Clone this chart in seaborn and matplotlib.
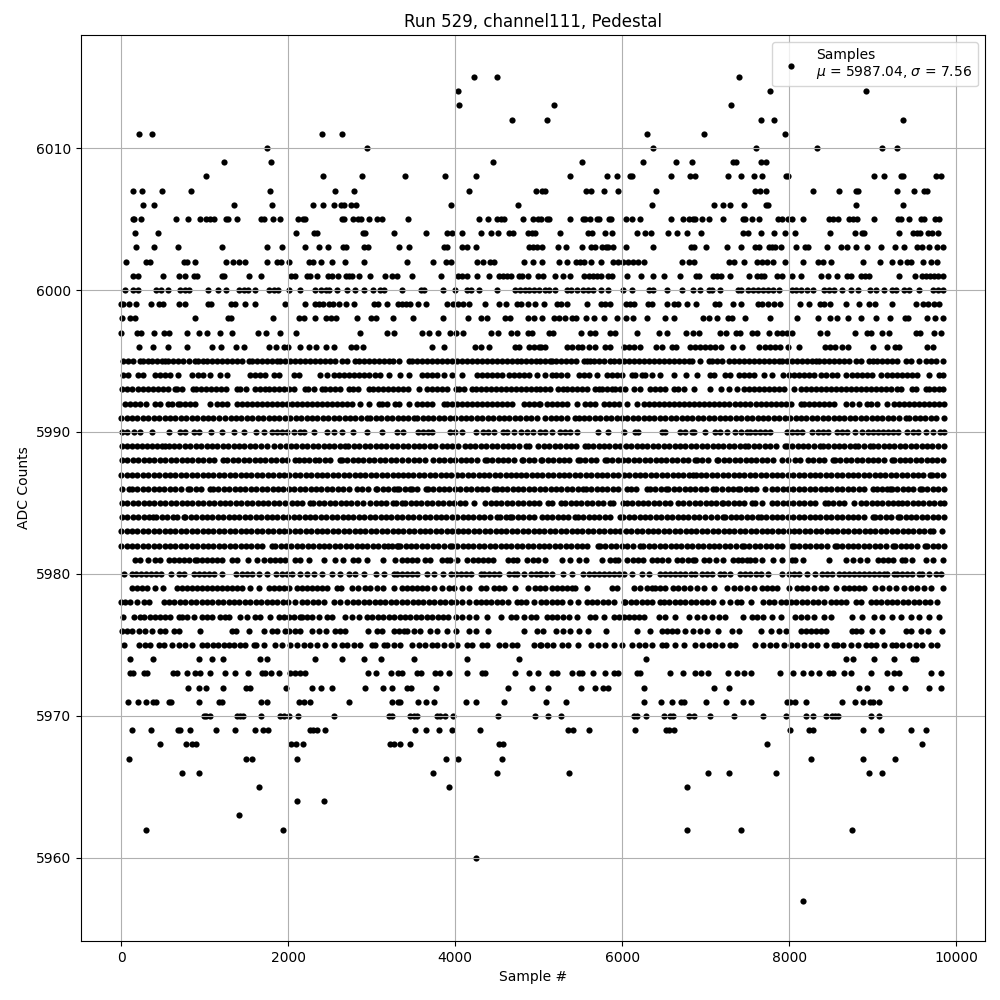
"""
plot.py
Pedestal samples of one ADC channel, positions read off the reference picture
"""

import pandas as pd
import matplotlib
matplotlib.use("Agg")
import matplotlib.pyplot as plt
import seaborn as sns

# sample numbers seen at each ADC count
adc_6015 = [4232, 4507, 7405]
adc_6014 = [4040, 7776, 8926]
adc_6013 = [4052, 5190, 7309]
adc_6012 = [4687, 5106, 7669, 7824, 9369]
adc_6011 = [208, 375, 2411, 2639, 6303, 6986, 7956]
adc_6010 = [1741, 2950, 6375, 7609, 8339, 9118, 9297]
adc_6009 = [1237, 1800, 4459, 5525, 6256, 6651, 6834, 7333, 7369, 7669, 7729]
adc_6008 = [1010, 2423, 2890, 3405, 3884, 4255, 5381, 5824, 5944, 6100, 6124, 6591, 6818, 6878, 7274, 7429, 7585, 7681, 7968, 7992, 9022, 9142, 9345, 9369, 9764, 9824]
adc_6007 = [136, 255, 483, 842, 1788, 2567, 2794, 4172, 4974, 5046, 5082, 5573, 5633, 5788, 5956, 6411, 7597, 7657, 7729, 8291, 8603, 8806, 8830, 9297, 9501, 9621, 9657]
adc_6006 = [267, 399, 1357, 1812, 2303, 2423, 2555, 2627, 2663, 2758, 2818, 3956, 4758, 6363, 7106, 7214, 7297, 7465, 7729, 7753, 8806, 9369]
adc_6005 = [136, 148, 243, 651, 806, 950, 1010, 1058, 1106, 1261, 1285, 1393, 1669, 1705, 1824, 1908, 2112, 2172, 2196, 2639, 2663, 2782, 2842, 2878, 2974, 3070, 3122, 3441, 4291, 4399, 4507, 4555, 4591, 4818, 4938, 4998, 5034, 5106, 5130, 5381, 5537, 5561, 5621, 5705, 5729, 5848, 5872, 6052, 6124, 6220, 6591, 6735, 6806, 6854, 6878, 6962, 7046, 7214, 7453, 7477, 7561, 7645, 7872, 7920, 7992, 8040, 8172, 8483, 8531, 8591, 8723, 8770, 8818, 9022, 9309, 9345, 9441, 9585, 9621, 9752, 9800]
adc_6004 = [160, 435, 2088, 2315, 2351, 2902, 2926, 3273, 3657, 3908, 3968, 4088, 4315, 4435, 4519, 4651, 4699, 4878, 4926, 4962, 5262, 5597, 5645, 5800, 5884, 6184, 6280, 6351, 6555, 6663, 6782, 6950, 7453, 7513, 7669, 7824, 7956, 8076, 8495, 8794, 8878, 8902, 9321, 9489, 9537, 9573, 9669, 9717, 9788]
adc_6003 = [172, 399, 675, 1213, 1741, 1932, 2207, 2375, 2483, 2651, 2687, 2914, 2962, 3333, 3453, 3872, 3908, 4088, 4140, 4255, 4890, 4938, 4986, 5046, 5238, 5333, 5525, 5633, 5681, 5764, 5812, 5836, 5896, 6052, 6375, 6830, 6866, 7010, 7262, 7429, 7597, 7645, 7765, 7800, 7836, 7908, 8088, 8196, 8232, 8459, 8627, 8699, 8806, 8938, 9106, 9274, 9381, 9537, 9597, 9681, 9776, 9840]
adc_6002 = [52, 303, 351, 758, 794, 890, 1250, 1345, 1417, 1489, 1752, 1872, 1920, 2016, 2244, 2303, 2399, 2531, 2675, 2914, 3429, 3729, 3896, 3956, 4268, 4339, 4423, 4471, 4830, 4938, 5046, 5250, 5345, 5453, 5501, 5549, 5633, 5753, 5896, 5956, 6016, 6076, 6136, 6196, 6268, 6723, 6806, 6866, 7286, 7345, 7465, 7621, 7681, 7741, 7812, 7956, 8172, 8351, 8411, 8507, 8890, 9094, 9238, 9333, 9409, 9465, 9609, 9705, 9776]
adc_6001 = [136, 196, 495, 687, 770, 878, 914, 1213, 1237, 1525, 1669, 2040, 2076, 2231, 2267, 2351, 2483, 2531, 2603, 2687, 2723, 2770, 2854, 2986, 3166, 3238, 3309, 3489, 3836, 4040, 4088, 4148, 4268, 4411, 4531, 4579, 4627, 4675, 4770, 4806, 4878, 4998, 5058, 5202, 5297, 5381, 5549, 5609, 5657, 5705, 5753, 5836, 5884, 6064, 6232, 6375, 6507, 6699, 6890, 6926, 7094, 7142, 7190, 7297, 7525, 7621, 7669, 7705, 7860, 7920, 8040, 8148, 8387, 8471, 8579, 8699, 8747, 8866, 8914, 8962, 9321, 9513, 9597, 9645, 9693, 9741, 9788, 9840]
adc_6000 = [50, 145, 205, 417, 481, 565, 705, 769, 817, 1045, 1165, 1261, 1417, 1473, 1513, 1597, 1765, 1825, 1873, 2005, 2137, 2317, 2389, 2453, 2485, 2581, 2701, 2797, 2905, 3013, 3097, 3145, 3361, 3589, 3625, 3853, 3997, 4145, 4193, 4285, 4501, 4717, 4777, 4837, 4885, 4945, 5005, 5082, 5130, 5202, 5345, 5393, 5465, 5537, 5597, 5657, 5753, 5836, 6016, 6124, 6327, 6375, 6543, 6723, 6854, 6938, 7046, 7082, 7178, 7393, 7429, 7513, 7573, 7633, 7693, 7753, 7812, 7884, 8040, 8088, 8148, 8220, 8291, 8423, 8483, 8543, 8639, 8746, 8830, 8974, 9046, 9142, 9238, 9286, 9381, 9441, 9561, 9729, 9788, 9840]
adc_5999 = [1, 25, 97, 181, 361, 457, 505, 697, 769, 1045, 1081, 1321, 1369, 1489, 1597, 1957, 2197, 2317, 2365, 2413, 2485, 2533, 2605, 2689, 2785, 3025, 3073, 3181, 3313, 3361, 3409, 3457, 3553, 3649, 3901, 3973, 4033, 4093, 4165, 4357, 4525, 4609, 4741, 4789, 4873, 4957, 5070, 5226, 5274, 5346, 5574, 5742, 5790, 5850, 6042, 6090, 6138, 6306, 6354, 6538, 6618, 6666, 6774, 6882, 7110, 7158, 7326, 7422, 7626, 7674, 7746, 7818, 7890, 8130, 8238, 8370, 8418, 8490, 8682, 8838, 8958, 9030, 9234, 9522, 9606, 9666, 9738, 9798]
adc_5998 = [13, 109, 169, 889, 1285, 1321, 1813, 2125, 2185, 2317, 2449, 2509, 2569, 2821, 2989, 3049, 3253, 3493, 3853, 4153, 4309, 4381, 4597, 4657, 4873, 4945, 5046, 5190, 5250, 5322, 5394, 5442, 5562, 5658, 5778, 5934, 6042, 6126, 6294, 6510, 6618, 6966, 7038, 7134, 7266, 7314, 7470, 7770, 8094, 8346, 8490, 8574, 8706, 8862, 9042, 9210, 9390, 9426, 9654, 9754, 9845]
adc_5997 = [1, 193, 241, 397, 517, 577, 793, 937, 1033, 1189, 1333, 1633, 1729, 1897, 2089, 2857, 3181, 3265, 3601, 3685, 3793, 3937, 4009, 4093, 4429, 4513, 4669, 4741, 4873, 4921, 5130, 5178, 5502, 5610, 5670, 5850, 5910, 6174, 6438, 6534, 6762, 6846, 6918, 7170, 7242, 7362, 7410, 7554, 7614, 7758, 7854, 7914, 7974, 8034, 8370, 8454, 8790, 8934, 8982, 9114, 9198, 9522, 9570, 9738, 9822]
adc_5996 = [217, 385, 565, 793, 1093, 1201, 1381, 1477, 1765, 1849, 1945, 1993, 2137, 2245, 2329, 2449, 2545, 2749, 2809, 2893, 3721, 3865, 4237, 4309, 4405, 4717, 4765, 4885, 4945, 5005, 5034, 5082, 5346, 5394, 5466, 5514, 5598, 5670, 5790, 5850, 6018, 6078, 6138, 6210, 6402, 6474, 6594, 6642, 6810, 6870, 6930, 6990, 7050, 7110, 7182, 7326, 7434, 7638, 7710, 7770, 7830, 7890, 7986, 8118, 8430, 8490, 8550, 8634, 8706, 9006, 9174, 9270, 9318, 9654, 9726]
adc_5995 = [25, 85, 145, 225, 265, 317, 365, 425, 485, 521, 565, 625, 685, 745, 815, 885, 925, 985, 1025, 1085, 1145, 1205, 1265, 1325, 1385, 1445, 1525, 1565, 1625, 1685, 1745, 1805, 1865, 1905, 1965, 2025, 2085, 2145, 2205, 2265, 2325, 2385, 2445, 2505, 2557, 2645, 2705, 2805, 2845, 2905, 2965, 3025, 3085, 3145, 3205, 3253, 3333, 3445, 3485, 3545, 3605, 3665, 3725, 3785, 3845, 3905, 3965, 4025, 4085, 4145, 4205, 4265, 4325, 4385, 4445, 4505, 4565, 4625, 4685, 4745, 4785, 4845, 4905, 4965, 5018, 5078, 5138, 5162, 5210, 5270, 5330, 5390, 5450, 5538, 5578, 5618, 5658, 5718, 5778, 5858, 5898, 5958, 6018, 6078, 6138, 6198, 6258, 6318, 6378, 6438, 6498, 6558, 6618, 6678, 6738, 6798, 6838, 6938, 7038, 7078, 7138, 7198, 7278, 7338, 7398, 7458, 7518, 7578, 7638, 7698, 7758, 7818, 7878, 7918, 7978, 8038, 8098, 8158, 8218, 8278, 8318, 8358, 8418, 8478, 8538, 8598, 8658, 8718, 8798, 8858, 8958, 9006, 9058, 9118, 9178, 9238, 9298, 9398, 9458, 9558, 9638, 9698, 9758, 9845]
adc_5994 = [25, 85, 205, 265, 405, 465, 525, 585, 685, 845, 925, 985, 1065, 1185, 1265, 1545, 1605, 1665, 1725, 1825, 1885, 2065, 2125, 2385, 2465, 2545, 2605, 2665, 2725, 2785, 2845, 2905, 2965, 3045, 3105, 3205, 3345, 3445, 3605, 3665, 3725, 3785, 3865, 3965, 4085, 4265, 4325, 4385, 4445, 4505, 4565, 4645, 4705, 4765, 4825, 4885, 4985, 5078, 5158, 5210, 5270, 5338, 5478, 5538, 5598, 5698, 5818, 5878, 5938, 5998, 6118, 6158, 6238, 6278, 6358, 6458, 6618, 6762, 6898, 7058, 7098, 7238, 7298, 7398, 7458, 7518, 7578, 7698, 7798, 7926, 7998, 8058, 8118, 8178, 8238, 8298, 8378, 8438, 8518, 8578, 8678, 8758, 8818, 8878, 8938, 8998, 9098, 9178, 9238, 9298, 9358, 9418, 9478, 9538, 9678, 9798, 9845]
adc_5993 = [5, 65, 125, 205, 265, 317, 377, 437, 497, 557, 645, 673, 733, 865, 893, 953, 1013, 1073, 1133, 1193, 1253, 1385, 1425, 1493, 1605, 1665, 1725, 1765, 1825, 1885, 1945, 2005, 2065, 2205, 2233, 2305, 2405, 2445, 2505, 2565, 2625, 2725, 2773, 2833, 2965, 3013, 3073, 3133, 3193, 3253, 3313, 3373, 3433, 3565, 3665, 3725, 3785, 3845, 3905, 4005, 4045, 4105, 4205, 4245, 4305, 4365, 4425, 4485, 4545, 4605, 4665, 4725, 4785, 4845, 4905, 4965, 5018, 5078, 5138, 5238, 5298, 5338, 5398, 5458, 5518, 5578, 5678, 5718, 5758, 5818, 5878, 5918, 5978, 6038, 6138, 6218, 6338, 6398, 6458, 6518, 6618, 6666, 6738, 6858, 7050, 7190, 7278, 7378, 7458, 7518, 7578, 7638, 7698, 7758, 7818, 7878, 7938, 8058, 8138, 8198, 8258, 8318, 8378, 8438, 8498, 8558, 8618, 8678, 8738, 8798, 8858, 8918, 8978, 9038, 9098, 9158, 9218, 9298, 9338, 9478, 9518, 9638, 9678, 9738, 9798, 9845]
adc_5992 = [45, 105, 165, 225, 293, 405, 465, 565, 605, 685, 705, 765, 825, 885, 1065, 1145, 1205, 1265, 1385, 1445, 1505, 1565, 1625, 1685, 1745, 1805, 1865, 1925, 1985, 2045, 2105, 2165, 2225, 2285, 2345, 2405, 2465, 2525, 2585, 2645, 2705, 2765, 2865, 2965, 3085, 3125, 3185, 3285, 3325, 3445, 3545, 3605, 3665, 3725, 3865, 3905, 3965, 4025, 4085, 4145, 4205, 4265, 4325, 4385, 4445, 4505, 4565, 4625, 4685, 4825, 4885, 4945, 5005, 5018, 5098, 5158, 5218, 5278, 5338, 5458, 5558, 5618, 5678, 5778, 5838, 5898, 5958, 6058, 6178, 6258, 6318, 6378, 6438, 6498, 6558, 6618, 6678, 6738, 6798, 6858, 6918, 6978, 7038, 7098, 7158, 7218, 7278, 7358, 7418, 7478, 7538, 7598, 7658, 7718, 7778, 7838, 7898, 7958, 8018, 8138, 8178, 8238, 8298, 8358, 8418, 8478, 8538, 8678, 8758, 8838, 8938, 8978, 9058, 9178, 9258, 9318, 9378, 9438, 9498, 9558, 9618, 9678, 9738, 9798, 9850]
adc_5991 = [0, 65, 130, 195, 260, 325, 390, 455, 520, 585, 650, 715, 780, 845, 910, 975, 1040, 1105, 1170, 1245, 1310, 1375, 1440, 1505, 1570, 1635, 1700, 1765, 1830, 1895, 1960, 2025, 2090, 2155, 2220, 2285, 2350, 2415, 2480, 2545, 2610, 2675, 2740, 2805, 2870, 2940, 2985, 3050, 3115, 3180, 3245, 3310, 3375, 3440, 3505, 3545, 3610, 3675, 3740, 3805, 3870, 3935, 4000, 4065, 4130, 4195, 4260, 4325, 4390, 4455, 4520, 4585, 4650, 4715, 4780, 4845, 4910, 4975, 5078, 5143, 5208, 5273, 5338, 5438, 5478, 5543, 5608, 5673, 5738, 5803, 5868, 5933, 5998, 6063, 6128, 6193, 6258, 6323, 6388, 6453, 6518, 6583, 6648, 6713, 6778, 6843, 6908, 6973, 7038, 7103, 7168, 7233, 7298, 7363, 7428, 7493, 7558, 7623, 7688, 7753, 7818, 7883, 7948, 8013, 8078, 8143, 8208, 8273, 8338, 8403, 8468, 8533, 8598, 8663, 8728, 8793, 8858, 8923, 8988, 9053, 9118, 9183, 9248, 9313, 9398, 9438, 9503, 9568, 9633, 9698, 9763, 9850]
adc_5990 = [8, 70, 150, 220, 375, 567, 710, 770, 868, 928, 1073, 1213, 1357, 1477, 1617, 1705, 1805, 1865, 1925, 1985, 2065, 2145, 2185, 2305, 2471, 2545, 2645, 2782, 2942, 3121, 3301, 3381, 3560, 3620, 3680, 3720, 3940, 4000, 4080, 4251, 4339, 4399, 4471, 4578, 4620, 4710, 4790, 4858, 4938, 5018, 5081, 5165, 5257, 5317, 5377, 5457, 5716, 5836, 6027, 6155, 6195, 6475, 6515, 6694, 6754, 6834, 6863, 6994, 7114, 7174, 7254, 7354, 7424, 7494, 7533, 7593, 7653, 7713, 7773, 7972, 8032, 8092, 8160, 8272, 8342, 8412, 8472, 8571, 8631, 8691, 8791, 8871, 8951, 9011, 9071, 9131, 9190, 9250, 9310, 9410, 9490, 9550, 9637, 9721, 9809, 9850]
adc_5989 = [5, 65, 125, 185, 245, 305, 365, 425, 485, 527, 567, 632, 697, 762, 827, 892, 957, 1022, 1087, 1152, 1217, 1282, 1347, 1412, 1477, 1542, 1607, 1672, 1745, 1836, 1904, 1969, 2034, 2099, 2164, 2229, 2294, 2359, 2424, 2489, 2554, 2619, 2682, 2722, 2787, 2852, 2917, 2982, 3047, 3112, 3177, 3242, 3307, 3372, 3437, 3502, 3567, 3632, 3697, 3762, 3840, 3900, 3965, 4030, 4119, 4179, 4244, 4309, 4374, 4439, 4504, 4569, 4634, 4699, 4764, 4846, 4890, 4998, 5063, 5128, 5193, 5258, 5323, 5388, 5453, 5556, 5588, 5653, 5718, 5783, 5848, 5913, 5978, 6043, 6108, 6173, 6238, 6303, 6368, 6433, 6498, 6563, 6628, 6693, 6758, 6823, 6888, 6953, 7018, 7083, 7148, 7213, 7278, 7343, 7408, 7473, 7513, 7578, 7643, 7708, 7773, 7838, 7952, 7972, 8037, 8102, 8167, 8232, 8297, 8372, 8403, 8468, 8533, 8598, 8663, 8728, 8791, 8831, 8896, 8971, 9002, 9067, 9132, 9197, 9262, 9327, 9392, 9457, 9522, 9587, 9652, 9717, 9782, 9850]
adc_5988 = [8, 73, 138, 203, 268, 333, 398, 463, 528, 593, 658, 723, 788, 853, 918, 983, 1048, 1113, 1217, 1273, 1338, 1403, 1468, 1533, 1598, 1663, 1728, 1793, 1858, 1923, 1988, 2084, 2124, 2189, 2254, 2323, 2375, 2440, 2505, 2615, 2642, 2707, 2772, 2837, 2902, 2967, 3032, 3097, 3162, 3227, 3292, 3369, 3441, 3506, 3571, 3640, 3740, 3805, 3870, 3935, 4000, 4065, 4130, 4195, 4260, 4359, 4379, 4444, 4509, 4574, 4639, 4704, 4798, 4818, 4883, 4948, 5026, 5045, 5110, 5175, 5240, 5305, 5370, 5476, 5496, 5561, 5626, 5691, 5796, 5816, 5881, 5946, 6011, 6076, 6141, 6206, 6271, 6336, 6401, 6466, 6531, 6596, 6661, 6726, 6791, 6875, 6895, 6960, 7025, 7134, 7154, 7219, 7284, 7349, 7414, 7479, 7544, 7609, 7674, 7739, 7804, 7913, 7992, 8072, 8137, 8232, 8292, 8357, 8422, 8531, 8551, 8616, 8681, 8746, 8811, 8876, 8941, 9006, 9071, 9136, 9230, 9258, 9323, 9388, 9453, 9518, 9583, 9648, 9713, 9769, 9845]
adc_5987 = [0, 65, 130, 195, 260, 325, 390, 455, 520, 585, 650, 715, 780, 845, 910, 975, 1040, 1105, 1170, 1235, 1300, 1365, 1430, 1495, 1560, 1625, 1690, 1755, 1820, 1885, 1950, 2015, 2080, 2145, 2210, 2275, 2340, 2405, 2470, 2535, 2600, 2665, 2730, 2795, 2860, 2925, 2990, 3055, 3120, 3185, 3250, 3315, 3380, 3441, 3500, 3565, 3630, 3695, 3760, 3825, 3890, 3955, 4020, 4085, 4150, 4215, 4280, 4345, 4410, 4475, 4540, 4605, 4670, 4735, 4785, 4850, 4915, 4980, 5045, 5110, 5175, 5240, 5305, 5370, 5435, 5500, 5565, 5630, 5695, 5760, 5825, 5890, 5955, 6020, 6085, 6150, 6215, 6280, 6345, 6410, 6475, 6540, 6605, 6670, 6735, 6800, 6855, 6880, 6945, 7010, 7075, 7140, 7205, 7270, 7335, 7400, 7465, 7530, 7595, 7660, 7725, 7790, 7855, 7920, 7985, 8050, 8115, 8180, 8245, 8310, 8375, 8440, 8505, 8570, 8635, 8700, 8765, 8830, 8895, 8960, 9025, 9090, 9155, 9220, 9285, 9350, 9415, 9480, 9545, 9610, 9689, 9709, 9774, 9849]
adc_5986 = [8, 88, 128, 193, 258, 323, 388, 453, 518, 583, 648, 713, 806, 826, 891, 956, 1066, 1098, 1163, 1228, 1293, 1358, 1423, 1488, 1553, 1618, 1683, 1748, 1813, 1878, 1943, 2008, 2073, 2138, 2203, 2268, 2333, 2398, 2463, 2528, 2593, 2658, 2723, 2822, 2890, 2955, 3054, 3070, 3135, 3200, 3265, 3301, 3329, 3394, 3461, 3481, 3546, 3648, 3672, 3737, 3802, 3867, 3932, 3997, 4062, 4127, 4192, 4257, 4322, 4387, 4471, 4507, 4558, 4623, 4688, 4753, 4818, 4883, 4948, 5013, 5078, 5143, 5208, 5273, 5338, 5403, 5468, 5537, 5564, 5629, 5694, 5759, 5824, 5889, 5954, 6055, 6107, 6172, 6295, 6335, 6400, 6465, 6522, 6554, 6619, 6684, 6749, 6814, 6879, 6944, 7009, 7094, 7126, 7191, 7274, 7334, 7394, 7414, 7479, 7544, 7609, 7713, 7793, 7858, 7923, 7988, 8053, 8118, 8183, 8248, 8313, 8378, 8443, 8508, 8573, 8638, 8703, 8768, 8833, 8898, 9010, 9050, 9110, 9175, 9210, 9230, 9295, 9360, 9425, 9490, 9569, 9589, 9654, 9719, 9784, 9850]
adc_5985 = [8, 73, 138, 203, 268, 333, 398, 463, 528, 593, 658, 723, 788, 853, 918, 983, 1048, 1113, 1178, 1243, 1308, 1373, 1438, 1503, 1568, 1633, 1698, 1763, 1828, 1893, 1958, 2044, 2104, 2169, 2263, 2303, 2368, 2433, 2498, 2563, 2628, 2693, 2758, 2823, 2902, 2982, 3047, 3112, 3177, 3261, 3293, 3358, 3401, 3466, 3531, 3596, 3661, 3726, 3791, 3856, 3921, 3986, 4059, 4119, 4231, 4359, 4424, 4489, 4554, 4619, 4684, 4749, 4814, 4879, 4944, 5009, 5117, 5157, 5265, 5317, 5382, 5447, 5512, 5577, 5642, 5707, 5772, 5856, 5896, 6015, 6055, 6120, 6185, 6250, 6315, 6380, 6445, 6510, 6575, 6674, 6735, 6800, 6874, 6930, 7000, 7065, 7130, 7194, 7206, 7271, 7336, 7401, 7466, 7553, 7593, 7673, 7793, 7858, 7923, 7988, 8053, 8118, 8183, 8248, 8313, 8432, 8463, 8528, 8593, 8658, 8779, 8859, 8924, 8989, 9054, 9119, 9184, 9249, 9310, 9350, 9415, 9480, 9545, 9610, 9675, 9740, 9805, 9850]
adc_5984 = [8, 73, 138, 203, 268, 333, 387, 419, 484, 549, 615, 667, 747, 767, 832, 897, 962, 1027, 1092, 1157, 1222, 1287, 1352, 1417, 1482, 1547, 1612, 1677, 1742, 1807, 1872, 1937, 2002, 2067, 2132, 2197, 2262, 2327, 2392, 2457, 2522, 2587, 2652, 2717, 2782, 2847, 2912, 2977, 3042, 3107, 3172, 3237, 3302, 3367, 3432, 3497, 3562, 3640, 3700, 3765, 3830, 3895, 3960, 4025, 4090, 4155, 4220, 4285, 4350, 4415, 4499, 4539, 4604, 4658, 4686, 4751, 4816, 4881, 4946, 5037, 5097, 5162, 5227, 5292, 5357, 5437, 5469, 5534, 5599, 5664, 5729, 5794, 5859, 5976, 6015, 6080, 6145, 6210, 6275, 6340, 6405, 6470, 6535, 6600, 6665, 6730, 6795, 6860, 6925, 6994, 7059, 7134, 7214, 7234, 7299, 7364, 7429, 7494, 7559, 7633, 7661, 7726, 7791, 7856, 7921, 7986, 8051, 8116, 8181, 8246, 8311, 8376, 8441, 8506, 8571, 8636, 8701, 8766, 8831, 8896, 9002, 9030, 9095, 9160, 9225, 9310, 9330, 9395, 9460, 9525, 9590, 9655, 9720, 9785, 9850]
adc_5983 = [0, 65, 130, 195, 260, 325, 390, 455, 520, 585, 650, 715, 780, 845, 910, 975, 1040, 1105, 1170, 1235, 1300, 1365, 1430, 1495, 1560, 1625, 1690, 1755, 1820, 1885, 1950, 2015, 2080, 2145, 2210, 2275, 2340, 2405, 2470, 2535, 2600, 2665, 2730, 2795, 2860, 2925, 2990, 3055, 3120, 3185, 3250, 3315, 3380, 3445, 3510, 3575, 3640, 3705, 3770, 3835, 3900, 3965, 4030, 4095, 4160, 4225, 4290, 4355, 4420, 4485, 4550, 4615, 4680, 4745, 4810, 4875, 4940, 5005, 5070, 5135, 5200, 5265, 5330, 5395, 5460, 5525, 5590, 5655, 5720, 5785, 5850, 5915, 5980, 6045, 6110, 6175, 6240, 6305, 6370, 6435, 6500, 6565, 6630, 6695, 6760, 6825, 6890, 6955, 7020, 7085, 7150, 7215, 7280, 7345, 7410, 7475, 7540, 7605, 7670, 7735, 7800, 7865, 7930, 7995, 8060, 8125, 8190, 8255, 8320, 8385, 8450, 8515, 8580, 8645, 8710, 8775, 8840, 8905, 8970, 9035, 9100, 9165, 9230, 9295, 9360, 9425, 9489, 9554, 9619, 9684, 9729, 9837]
adc_5982 = [0, 65, 130, 195, 260, 325, 390, 455, 520, 585, 650, 715, 780, 845, 910, 975, 1040, 1105, 1170, 1235, 1300, 1365, 1430, 1495, 1560, 1625, 1690, 1804, 1844, 1909, 1974, 2039, 2104, 2169, 2234, 2299, 2364, 2429, 2494, 2559, 2624, 2689, 2754, 2819, 2884, 2949, 3014, 3079, 3144, 3201, 3241, 3306, 3321, 3341, 3406, 3471, 3536, 3601, 3666, 3731, 3796, 3861, 3940, 3960, 4025, 4090, 4155, 4220, 4285, 4350, 4415, 4480, 4545, 4610, 4675, 4740, 4805, 4870, 4935, 5000, 5065, 5130, 5195, 5260, 5325, 5390, 5455, 5520, 5585, 5708, 5736, 5801, 5866, 5931, 5996, 6061, 6126, 6215, 6255, 6320, 6385, 6450, 6515, 6580, 6645, 6710, 6775, 6840, 6905, 6970, 7035, 7100, 7165, 7230, 7295, 7360, 7433, 7461, 7526, 7591, 7656, 7721, 7786, 7851, 7916, 8032, 8060, 8125, 8190, 8255, 8320, 8385, 8450, 8551, 8571, 8636, 8701, 8766, 8831, 8896, 8961, 9026, 9091, 9156, 9250, 9270, 9335, 9400, 9465, 9530, 9629, 9657, 9722, 9787, 9850]
adc_5981 = [168, 228, 316, 407, 467, 567, 635, 695, 755, 815, 887, 905, 965, 1025, 1085, 1145, 1205, 1325, 1385, 1513, 1625, 1705, 1785, 1845, 1905, 1965, 2085, 2145, 2245, 2431, 2565, 2662, 2782, 2842, 2942, 3141, 3281, 3361, 3421, 3481, 3540, 3640, 3700, 3840, 3900, 3940, 4020, 4139, 4219, 4279, 4339, 4399, 4459, 4630, 4690, 4738, 4866, 4938, 4998, 5077, 5277, 5377, 5484, 5564, 5756, 5856, 5916, 5956, 6055, 6135, 6195, 6255, 6355, 6415, 6475, 6546, 6654, 6714, 6794, 6854, 6875, 6982, 7046, 7126, 7206, 7334, 7394, 7433, 7493, 7533, 7593, 7673, 7813, 7913, 8032, 8072, 8164, 8479, 8679, 8771, 8851, 8939, 9070, 9130, 9190, 9250, 9350, 9390, 9469, 9641, 9729, 9849]
adc_5980 = [28, 128, 180, 240, 300, 360, 420, 480, 600, 688, 748, 868, 928, 988, 1048, 1108, 1208, 1378, 1448, 1505, 1565, 1645, 1745, 1857, 1925, 1985, 2045, 2145, 2225, 2305, 2405, 2525, 2625, 2725, 2805, 2913, 3049, 3145, 3265, 3305, 3365, 3421, 3481, 3541, 3661, 3741, 3849, 3945, 4005, 4065, 4125, 4185, 4305, 4345, 4405, 4465, 4525, 4645, 4705, 4745, 4825, 4905, 4965, 5025, 5018, 5088, 5158, 5298, 5398, 5526, 5598, 5658, 5718, 5778, 5838, 5898, 5958, 6018, 6118, 6238, 6318, 6458, 6518, 6578, 6638, 6698, 6758, 6826, 6878, 6958, 7018, 7078, 7178, 7218, 7298, 7418, 7478, 7538, 7598, 7658, 7746, 7918, 7998, 8058, 8118, 8210, 8306, 8398, 8458, 8518, 8598, 8658, 8718, 8778, 8838, 8898, 8958, 9018, 9078, 9138, 9178, 9258, 9298, 9358, 9418, 9478, 9558, 9598, 9678, 9758, 9818]
adc_5979 = [128, 188, 248, 308, 407, 495, 667, 727, 787, 847, 907, 967, 1027, 1085, 1145, 1205, 1265, 1325, 1385, 1445, 1545, 1653, 1765, 1825, 1885, 1945, 2005, 2105, 2165, 2225, 2285, 2345, 2405, 2465, 2585, 2630, 2762, 2842, 2922, 2982, 3062, 3142, 3265, 3365, 3425, 3485, 3545, 3605, 3665, 3745, 3845, 3925, 3985, 4085, 4165, 4305, 4368, 4465, 4525, 4585, 4717, 4877, 4957, 5018, 5078, 5158, 5218, 5278, 5338, 5398, 5438, 5578, 5878, 5938, 6138, 6218, 6298, 6358, 6398, 6458, 6518, 6606, 6666, 6738, 6818, 6898, 6978, 7098, 7258, 7338, 7410, 7498, 7578, 7678, 7738, 7798, 7858, 7998, 8098, 8158, 8218, 8298, 8378, 8438, 8558, 8658, 8718, 8778, 8838, 8898, 9030, 9118, 9198, 9278, 9378, 9458, 9538, 9618, 9706, 9846]
adc_5978 = [-5, 50, 100, 188, 268, 328, 507, 572, 637, 702, 767, 832, 897, 962, 1027, 1092, 1157, 1222, 1287, 1352, 1417, 1482, 1547, 1612, 1677, 1742, 1807, 1872, 1937, 2002, 2084, 2165, 2230, 2295, 2360, 2425, 2545, 2615, 2710, 2775, 2840, 2905, 2970, 3035, 3100, 3165, 3230, 3295, 3360, 3425, 3490, 3555, 3620, 3685, 3750, 3815, 3880, 3945, 4005, 4085, 4165, 4245, 4305, 4370, 4435, 4500, 4565, 4630, 4745, 4785, 4845, 4945, 5025, 5090, 5155, 5220, 5285, 5378, 5466, 5578, 5638, 5703, 5768, 5833, 5898, 6018, 6038, 6103, 6168, 6233, 6298, 6363, 6458, 6498, 6563, 6628, 6693, 6758, 6823, 6888, 6953, 7018, 7083, 7198, 7290, 7378, 7430, 7546, 7690, 7755, 7820, 7898, 7958, 8023, 8088, 8153, 8218, 8283, 8348, 8413, 8498, 8558, 8623, 8688, 8798, 8858, 8978, 9038, 9103, 9168, 9233, 9298, 9363, 9428, 9493, 9558, 9623, 9688, 9778]
adc_5977 = [20, 148, 220, 268, 347, 407, 467, 527, 587, 687, 727, 787, 867, 967, 1027, 1087, 1185, 1245, 1297, 1425, 1505, 1605, 1665, 1785, 1885, 1945, 2005, 2065, 2145, 2165, 2225, 2285, 2365, 2465, 2525, 2685, 2765, 2845, 2945, 3010, 3075, 3140, 3205, 3270, 3335, 3400, 3465, 3530, 3595, 3660, 3725, 3790, 3855, 3920, 4005, 4085, 4165, 4245, 4385, 4545, 4665, 4725, 4825, 4905, 4965, 5098, 5158, 5226, 5290, 5370, 5458, 5610, 5678, 5778, 5898, 5958, 6018, 6078, 6138, 6198, 6258, 6438, 6518, 6638, 6798, 6898, 6986, 7078, 7158, 7238, 7446, 7558, 7618, 7686, 7798, 7906, 8066, 8146, 8218, 8298, 8418, 8498, 8758, 8878, 9018, 9118, 9238, 9338, 9458, 9558, 9678, 9798]
adc_5976 = [8, 68, 128, 208, 288, 375, 460, 528, 627, 687, 950, 1325, 1377, 1525, 1705, 1805, 1865, 1965, 2005, 2085, 2145, 2285, 2365, 2453, 2565, 2625, 2685, 2957, 3065, 3125, 3265, 3325, 3385, 3425, 3505, 3577, 3705, 3785, 3905, 4005, 4165, 4245, 4393, 4825, 4985, 5058, 5210, 5298, 5378, 5478, 5586, 5802, 6178, 6330, 6478, 6538, 6598, 6658, 6758, 6850, 6930, 7018, 7146, 7318, 7398, 7666, 7778, 7882, 7958, 8138, 8198, 8258, 8318, 8378, 8438, 8758, 8798, 8866, 8990, 9110, 9398, 9458, 9578, 9666, 9826]
adc_5975 = [28, 208, 288, 347, 447, 515, 607, 687, 767, 847, 967, 1032, 1097, 1162, 1227, 1292, 1357, 1422, 1487, 1585, 1613, 1705, 1845, 1925, 2025, 2105, 2185, 2265, 2345, 2445, 2545, 2645, 2705, 2785, 2865, 3005, 3045, 3145, 3185, 3265, 3345, 3485, 3565, 3645, 3725, 3785, 3865, 3945, 4025, 4145, 4205, 4325, 4385, 4525, 4593, 4685, 4745, 4945, 5025, 5018, 5098, 5178, 5278, 5358, 5466, 5626, 5706, 5798, 5898, 5998, 6118, 6198, 6278, 6358, 6478, 6530, 6638, 6738, 6878, 6958, 7038, 7118, 7198, 7290, 7358, 7590, 7686, 7766, 7846, 7938, 8018, 8098, 8178, 8258, 8338, 8438, 8538, 8578, 8646, 8746, 8826, 8918, 8978, 9038, 9138, 9238, 9278, 9358, 9438, 9518, 9598, 9698, 9770]
adc_5974 = [100, 387, 938, 1093, 1225, 1657, 1745, 2327, 2639, 2914, 3117, 3513, 4140, 4770, 6282, 8687, 8771, 9022, 9262, 9488, 9520]
adc_5973 = [100, 136, 268, 315, 619, 667, 794, 886, 946, 1058, 1245, 1369, 1513, 1685, 1725, 1793, 1885, 2024, 2084, 2144, 2196, 2962, 3054, 3229, 3313, 3369, 3541, 3593, 3761, 3813, 3932, 4148, 4319, 4359, 4722, 4886, 4998, 5158, 5226, 5398, 5478, 5518, 5646, 5790, 5898, 5946, 6178, 6218, 6578, 6726, 6870, 6950, 7026, 7266, 7374, 7458, 7542, 7886, 8046, 8166, 8262, 8358, 8478, 8526, 8658, 8746, 8978, 9174, 9258, 9318, 9702, 9814]
adc_5972 = [806, 938, 1018, 1225, 1490, 1538, 1980, 2280, 2388, 2520, 2926, 3140, 3240, 3421, 3473, 3776, 4639, 4926, 5118, 5502, 5670, 5766, 5830, 6258, 7098, 7278, 8838, 8934, 9222, 9390, 9678, 9822]
adc_5971 = [76, 196, 292, 387, 411, 567, 595, 938, 1166, 1213, 1669, 1741, 2124, 2192, 2267, 2734, 3249, 3313, 3341, 3561, 3657, 3752, 4136, 4255, 4591, 5094, 5333, 6268, 6471, 6603, 6711, 6747, 7000, 7250, 7453, 7549, 7980, 8012, 8076, 8208, 8639, 8794, 8890, 8970, 9002, 9082]
adc_5970 = [986, 1010, 1058, 1393, 1425, 1465, 1669, 1908, 1956, 2016, 2112, 2555, 3213, 3249, 3465, 3513, 3549, 3788, 3820, 3884, 3980, 4519, 4962, 5110, 5273, 6148, 6184, 6291, 6507, 6579, 6611, 6806, 6866, 7058, 7345, 7693, 7968, 8208, 8291, 8447, 8519, 8555, 8591, 8986, 9082]
adc_5969 = [124, 363, 675, 699, 830, 1130, 1369, 1597, 1693, 1764, 2267, 2303, 2351, 2447, 3525, 3657, 3812, 3968, 4303, 5357, 5417, 5609, 6160, 6531, 6567, 6627, 8016, 8244, 8291, 8890, 9106, 9465, 9645]
adc_5968 = [459, 782, 854, 902, 2040, 2088, 2172, 3225, 3273, 3345, 3465, 4531, 4579, 7741, 9597]
adc_5967 = [88, 1501, 1565, 2100, 3896, 4040, 4567, 8268, 8890, 9273]
adc_5966 = [734, 938, 3729, 4507, 5369, 7034, 7285, 7848, 8962, 9118]
adc_5965 = [1645, 3932, 6782]
adc_5964 = [2100, 2435]
adc_5963 = [1417]
adc_5962 = [303, 1944, 6782, 7429, 8759]
adc_5960 = [4255]
adc_5957 = [8172]

levels = [
    (6015, adc_6015), (6014, adc_6014), (6013, adc_6013), (6012, adc_6012), (6011, adc_6011),
    (6010, adc_6010), (6009, adc_6009), (6008, adc_6008), (6007, adc_6007), (6006, adc_6006),
    (6005, adc_6005), (6004, adc_6004), (6003, adc_6003), (6002, adc_6002), (6001, adc_6001),
    (6000, adc_6000), (5999, adc_5999), (5998, adc_5998), (5997, adc_5997), (5996, adc_5996),
    (5995, adc_5995), (5994, adc_5994), (5993, adc_5993), (5992, adc_5992), (5991, adc_5991),
    (5990, adc_5990), (5989, adc_5989), (5988, adc_5988), (5987, adc_5987), (5986, adc_5986),
    (5985, adc_5985), (5984, adc_5984), (5983, adc_5983), (5982, adc_5982), (5981, adc_5981),
    (5980, adc_5980), (5979, adc_5979), (5978, adc_5978), (5977, adc_5977), (5976, adc_5976),
    (5975, adc_5975), (5974, adc_5974), (5973, adc_5973), (5972, adc_5972), (5971, adc_5971),
    (5970, adc_5970), (5969, adc_5969), (5968, adc_5968), (5967, adc_5967), (5966, adc_5966),
    (5965, adc_5965), (5964, adc_5964), (5963, adc_5963), (5962, adc_5962), (5960, adc_5960),
    (5957, adc_5957),
]

rows = [(s, adc) for adc, samples in levels for s in samples]
df = pd.DataFrame(rows, columns=["sample", "adc"])

fig, ax = plt.subplots(figsize=(10, 10), dpi=100)
sns.scatterplot(data=df, x="sample", y="adc", color="black", s=20, linewidth=0,
                label="Samples\n$\\mu$ = 5987.04, $\\sigma$ = 7.56", ax=ax)

ax.set_xlim(-479, 10347)
ax.set_ylim(5954.15, 6017.96)
ax.set_title("Run 529, channel111, Pedestal")
ax.set_xlabel("Sample #")
ax.set_ylabel("ADC Counts")
ax.grid(True)
ax.legend(loc="upper right")

fig.subplots_adjust(left=0.0812, right=0.985, top=0.965, bottom=0.059)
plt.savefig("out.png", dpi=100)
